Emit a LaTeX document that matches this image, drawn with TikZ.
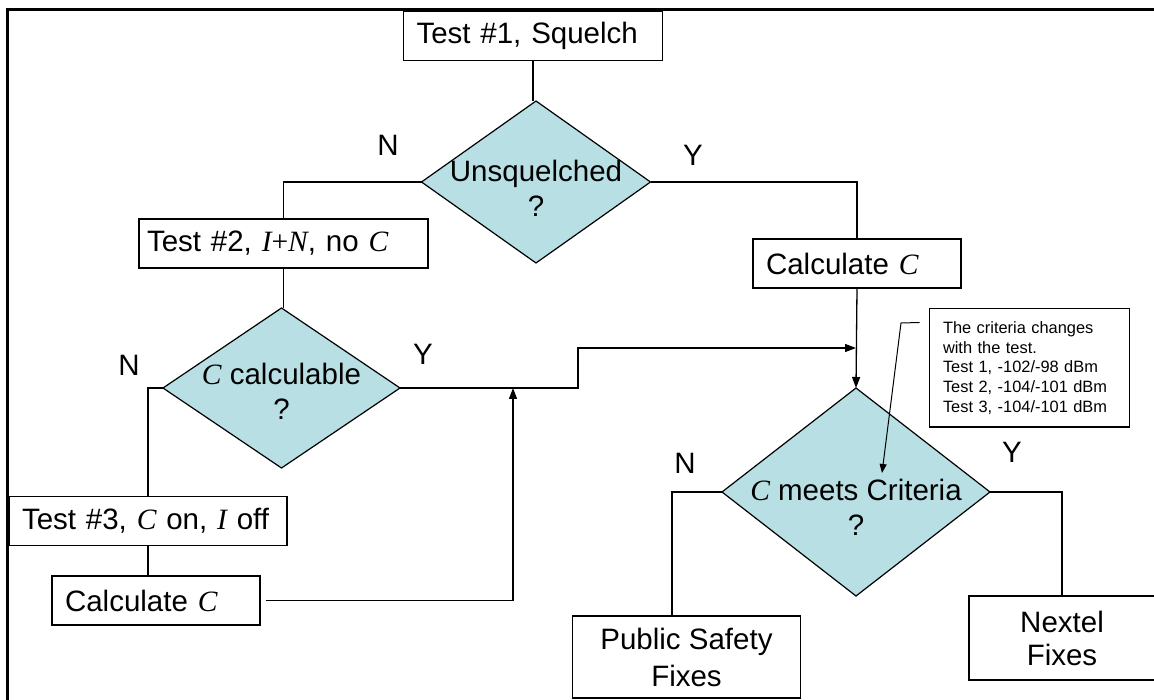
\documentclass[tikz,border=0pt]{standalone}
\usepackage{fontspec}
\setmainfont{Liberation Sans}
\newfontfamily\tmsfont{Liberation Serif}
\usetikzlibrary{shapes.geometric, arrows.meta, positioning, calc}
\definecolor{diafill}{RGB}{184,223,227}
\newcommand{\ivar}[1]{{\tmsfont\itshape #1}}

\begin{document}
\begin{tikzpicture}[x=1pt, y=-1pt, >={Triangle[length=11pt,width=8pt]},
	font=\fontsize{29.5}{35}\selectfont,
	box/.style={draw, line width=1.3pt, align=left, inner xsep=13pt, inner ysep=0pt, minimum height=49pt, text width=#1},
	fixbox/.style={draw, line width=1.3pt, align=center, inner sep=0pt, minimum width=#1},
	decision/.style={diamond, draw, fill=diafill, line width=1.2pt, inner sep=0pt, outer sep=0pt},
	wire/.style={line width=1.3pt}]
	% Page and outer frame
	\useasboundingbox (0,0) rectangle (1154,700);
	\draw[line width=3pt] (7,10) rectangle (1170,715);
	
	% Test 1 and the squelch decision
	\node[box=233pt] (test1) at (533,36) {Test \#1, Squelch};
	\node[decision, minimum width=229pt, minimum height=162pt,
		label={[align=center, yshift=-6.5pt]center:Unsquelched\\?}] (unsq) at (536,182) {};
	\node (n1) at (388,145) {N};
	\node (y1) at (693,155) {Y};
	
	% Left branch: Test 2 and the calculable decision
	\node[box=263pt, inner xsep=8pt, text width=273pt] (test2) at (283.5,243.5) {Test \#2, \ivar{I}{\tmsfont+}\ivar{N}, no \ivar{C}};
	\node[decision, minimum width=237pt, minimum height=160pt,
		label={[align=center, yshift=-3.5pt]center:\ivar{C} calculable\\?}] (ccalc) at (281.5,388) {};
	\node (n2) at (129,365) {N};
	\node (y2) at (423,354) {Y};
	
	% Test 3 and its calculation
	\node[box=252pt] (test3) at (148,521) {Test \#3, \ivar{C} on, \ivar{I} off};
	\node[box=182pt] (calcL) at (156,600.5) {Calculate \ivar{C}};
	
	% Right branch: calculation and the criteria decision
	\node[box=182pt] (calcR) at (857,263.5) {Calculate \ivar{C}};
	\node[decision, minimum width=268pt, minimum height=208pt,
		label={[align=center, yshift=-15.5pt]center:\ivar{C} meets Criteria\\?}] (crit) at (856,492) {};
	\node (n3) at (685,463) {N};
	\node (y3) at (1012,452) {Y};
	
	% Outcomes
	\node[fixbox=228pt, minimum height=82pt, font=\fontsize{29.5}{37}\selectfont] (psf) at (686.5,657) {Public Safety\\Fixes};
	\node[fixbox=186pt, minimum height=84pt, font=\fontsize{29.5}{33}\selectfont] (nextel) at (1062,638) {Nextel\\Fixes};
	
	% Note on the criteria
	\node[draw, line width=1pt, align=left, text width=172pt, inner xsep=14pt, minimum height=118pt,
		font=\fontsize{16.4}{19.7}\selectfont] (note) at (1029,368)
		{The criteria changes\\with the test.\\Test 1, -102/-98 dBm\\Test 2, -104/-101 dBm\\Test 3, -104/-101 dBm};
	
	% Joints of the connectors
	\coordinate (join) at (513,388);
	\coordinate (jog) at (578,388);
	\coordinate (merge) at (856,348);
	\coordinate (noteout) at ([xshift=-9pt, yshift=-14pt]note.north west);
	\coordinate (bend) at (901,323);
	\coordinate (tip) at (882,473);
	
	% Connectors
	\draw[wire] (test1.south) -- (test1.south |- unsq.north);
	\draw[wire] (unsq.west) -| (test2.north);
	\draw[wire] (unsq.east) -| (calcR.north);
	\draw[wire] (test2.south) -- (test2.south |- ccalc.north);
	\draw[wire] (ccalc.west) -| (test3.north);
	\draw[wire] (test3.south) -- (test3.south |- calcL.north);
	\draw[wire, ->] ([xshift=5pt]calcL.east) -| (join);
	\draw[wire, ->] (ccalc.east) -- (jog) |- (merge);
	\draw[wire, ->] (calcR.south) -- (crit.north);
	\draw[wire] (crit.west) -| ([xshift=-14.5pt]psf.north);
	\draw[wire] (crit.east) -| (nextel.north);
	\draw[line width=1pt, -{Triangle[length=9pt,width=7pt]}] (noteout) -- (bend) -- (tip);
\end{tikzpicture}
\end{document}
